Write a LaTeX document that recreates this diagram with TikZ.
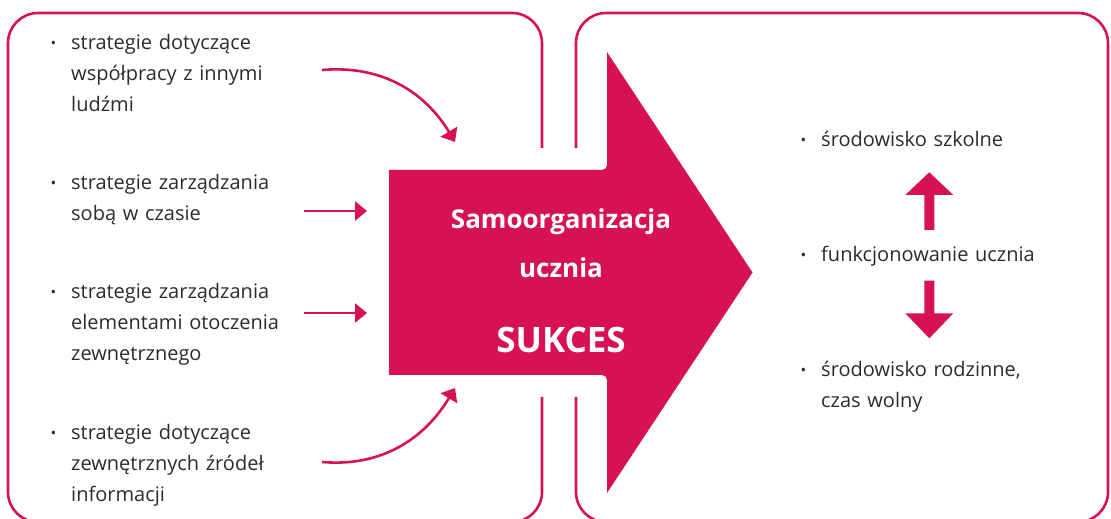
\documentclass[tikz,border=0pt]{standalone}
\usepackage{fontspec}
\setmainfont{Open Sans}
\usepackage{xcolor}
\usetikzlibrary{arrows.meta,positioning,calc}
\definecolor{crimson}{RGB}{215,17,85}
\definecolor{ink}{RGB}{45,42,43}
\newcommand{\itm}{\llap{\raisebox{1pt}{\fontsize{15}{15}\selectfont\textbullet}\hspace{15pt}}}

\begin{document}
\begin{tikzpicture}[x=1pt,y=1pt,
    frame/.style={draw=crimson,line width=2.6pt,rounded corners=30pt},
    item/.style={anchor=base west,inner sep=0pt,text width=260pt,align=left,
      text=ink,font=\fontsize{20}{31}\selectfont},
    title/.style={anchor=base,inner sep=0pt,text=white,font=\bfseries\fontsize{26}{30}\selectfont},
    feed/.style={draw=crimson,line width=2.6pt,-{Triangle[length=12pt,width=19pt]}}]
    \clip (0,0) rectangle (1111,519);

    % Left and right frames, open in the middle
    \draw[frame] (542,371) -- (542,506) -- (8,506) -- (8,-3) -- (542,-3) -- (542,122);
    \draw[frame] (576,371) -- (576,506) -- (1108,506) -- (1108,-3) -- (576,-3) -- (576,122);

    % Big arrow
    \fill[crimson] (389,144) -- (389,349) -- (602,349) arc[start angle=-90,end angle=0,radius=5]
      -- (607,467) -- (752.5,246.5) -- (607,26) -- (607,139) arc[start angle=0,end angle=90,radius=5] -- cycle;
    \node[title] (samo) at (561,290) {Samoorganizacja};
    \node[title] (uczn) at (561,241) {ucznia};
    \node[title,font=\bfseries\fontsize{35}{38}\selectfont] (sukces) at (561,166) {SUKCES};

    % Strategies
    \node[item] (coop) at (71,469) {\itm strategie dotyczące\\współpracy z innymi\\ludźmi};
    \node[item] (time) at (71,329) {\itm strategie zarządzania\\sobą w czasie};
    \node[item] (env) at (71,220) {\itm strategie zarządzania\\elementami otoczenia\\zewnętrznego};
    \node[item] (info) at (71,79) {\itm strategie dotyczące\\zewnętrznych źródeł\\informacji};

    % Arrows into the big arrow
    \coordinate (c1) at (322,449);  \coordinate (t1) at (455,377);
    \coordinate (c2) at (304,308);  \coordinate (t2) at (367,308);
    \coordinate (c3) at (304,206);  \coordinate (t3) at (367,206);
    \coordinate (c4) at (322,57);   \coordinate (t4) at (455,131);
    \draw[feed] (c1) to[out=5,in=121] (t1);
    \draw[feed] (c2) -- (t2);
    \draw[feed] (c3) -- (t3);
    \draw[feed] (c4) to[out=-5,in=-121] (t4);

    % Outcomes
    \node[item] (school) at (821,372) {\itm środowisko szkolne};
    \node[item] (pupil) at (821,257) {\itm funkcjonowanie ucznia};
    \node[item] (home) at (821,142) {\itm środowisko rodzinne,\\czas wolny};

    % Up and down block arrows
    \fill[crimson] (924.3,289) -- (924.3,324) -- (905.3,324) -- (929.3,346.7) -- (953.3,324)
      -- (934.3,324) -- (934.3,289) -- cycle;
    \fill[crimson] (924.3,238.3) -- (924.3,205.7) -- (905.3,205.7) -- (929.3,180.7) -- (953.3,205.7)
      -- (934.3,205.7) -- (934.3,238.3) -- cycle;
\end{tikzpicture}
\end{document}
